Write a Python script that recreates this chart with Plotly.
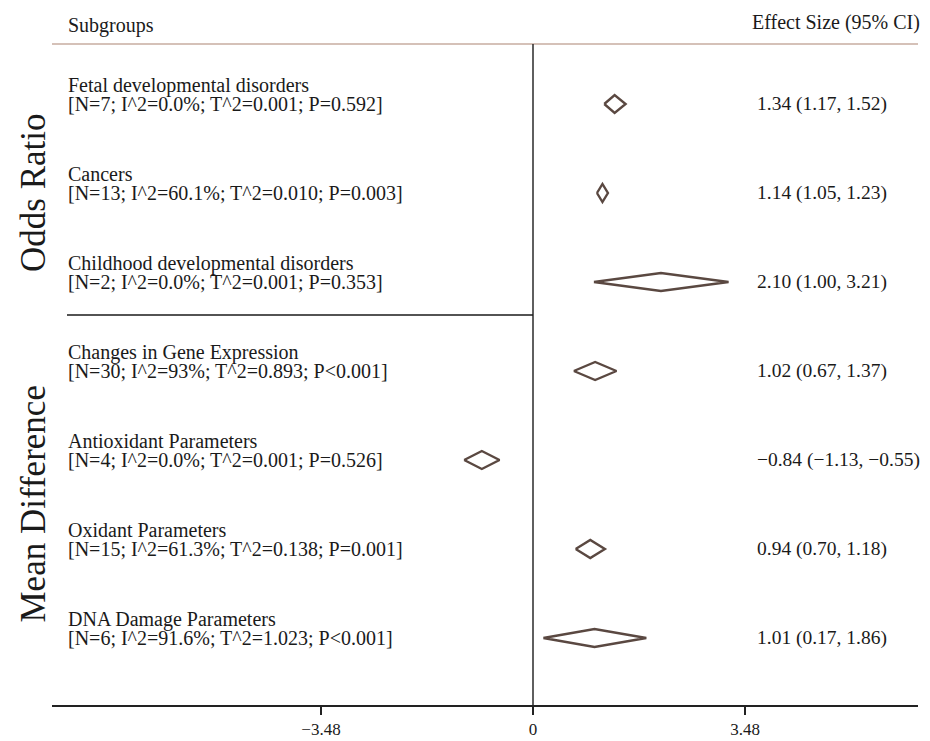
import plotly.graph_objects as go

# ---- data ----
groups = ["Odds Ratio", "Odds Ratio", "Odds Ratio",
          "Mean Difference", "Mean Difference", "Mean Difference", "Mean Difference"]
names = ["Fetal developmental disorders", "Cancers", "Childhood developmental disorders",
         "Changes in Gene Expression", "Antioxidant Parameters", "Oxidant Parameters",
         "DNA Damage Parameters"]
stats = ["[N=7; I^2=0.0%; T^2=0.001; P=0.592]",
         "[N=13; I^2=60.1%; T^2=0.010; P=0.003]",
         "[N=2; I^2=0.0%; T^2=0.001; P=0.353]",
         "[N=30; I^2=93%; T^2=0.893; P<0.001]",
         "[N=4; I^2=0.0%; T^2=0.001; P=0.526]",
         "[N=15; I^2=61.3%; T^2=0.138; P=0.001]",
         "[N=6; I^2=91.6%; T^2=1.023; P<0.001]"]
est = [1.34, 1.14, 2.10, 1.02, -0.84, 0.94, 1.01]
lo = [1.17, 1.05, 1.00, 0.67, -1.13, 0.70, 0.17]
hi = [1.52, 1.23, 3.21, 1.37, -0.55, 1.18, 1.86]
tick_vals = [-3.48, 0, 3.48]
tick_text = ["\u22123.48", "0", "3.48"]

FONT = "Liberation Serif, Times New Roman, serif"
TXT = "#1a1a1a"
OFF = 8  # page body margin in the browser
PAGE_W, PAGE_H = 930, 741
W, H = PAGE_W - OFF, PAGE_H - OFF

# layout positions in page pixels (as seen in the reference)
PLOT_L, PLOT_R, PLOT_T, PLOT_B = 52, 918, 44, 705
ZERO_PX = 533
PX_PER_UNIT = 212 / 3.48
ROW_PX = 89
FIRST_ROW_PX = 104
HALF_H = 9 / ROW_PX

ML, MR = PLOT_L - OFF, (OFF + W) - PLOT_R
MT, MB = PLOT_T - OFF, (OFF + H) - PLOT_B
PW = PLOT_R - PLOT_L

def px_to_x(px):
    return (px - ZERO_PX) / PX_PER_UNIT

def px_to_paper(px):
    return (px - PLOT_L) / PW

x_left, x_right = px_to_x(PLOT_L), px_to_x(PLOT_R)
y_top = (PLOT_T - FIRST_ROW_PX) / ROW_PX
y_bot = (PLOT_B - FIRST_ROW_PX) / ROW_PX

def fmt(v):
    return f"{v:.2f}".replace("-", "\u2212")

xs, ys = [], []
for i in range(len(est)):
    xs += [lo[i], est[i], hi[i], est[i], lo[i], None]
    ys += [i, i - HALF_H, i, i + HALF_H, i, None]

fig = go.Figure()
fig.add_trace(go.Scatter(x=xs, y=ys, mode="lines",
                         line=dict(color="#5a4841", width=2.4),
                         hoverinfo="skip", showlegend=False))

FS = 20
FS_R = 19.5
ann = []
for i in range(len(est)):
    ann.append(dict(x=px_to_paper(66), xref="paper", y=i, yref="y", text=names[i],
                    xanchor="left", yanchor="middle", yshift=19, showarrow=False,
                    font=dict(family=FONT, size=FS, color=TXT)))
    ann.append(dict(x=px_to_paper(66), xref="paper", y=i, yref="y", text=stats[i],
                    xanchor="left", yanchor="middle", showarrow=False,
                    font=dict(family=FONT, size=FS, color=TXT)))
    ann.append(dict(x=px_to_paper(755), xref="paper", y=i, yref="y",
                    text=f"{fmt(est[i])} ({fmt(lo[i])}, {fmt(hi[i])})",
                    xanchor="left", yanchor="middle", showarrow=False,
                    font=dict(family=FONT, size=FS_R, color=TXT)))

# group labels (vertical)
for g in ["Odds Ratio", "Mean Difference"]:
    idx = [i for i, gg in enumerate(groups) if gg == g]
    ann.append(dict(x=px_to_paper(33), xref="paper",
                    y=sum(idx) / len(idx), yref="y", text=g, textangle=-90,
                    xanchor="center", yanchor="middle", showarrow=False,
                    font=dict(family=FONT, size=35, color=TXT)))

ann.append(dict(x=px_to_paper(66), xref="paper", y=1, yref="paper", text="Subgroups",
                xanchor="left", yanchor="middle", yshift=19, showarrow=False,
                font=dict(family=FONT, size=FS, color=TXT)))
ann.append(dict(x=1, xref="paper", y=1, yref="paper", text="Effect Size (95% CI)",
                xanchor="right", yanchor="middle", yshift=22, xshift=4, showarrow=False,
                font=dict(family=FONT, size=FS, color=TXT)))

# separator between groups
n_or = sum(1 for g in groups if g == "Odds Ratio")
sep_y = n_or - 1 + 33 / ROW_PX

shapes = [
    dict(type="line", xref="paper", yref="paper", x0=0, x1=1, y0=1, y1=1,
         line=dict(color="#c7ada0", width=1.6)),
    dict(type="line", xref="x", yref="paper", x0=0, x1=0, y0=0, y1=1,
         line=dict(color="#2a2a2a", width=1.5)),
    dict(type="line", xref="x", yref="y", x0=px_to_x(67), x1=0,
         y0=sep_y, y1=sep_y, line=dict(color="#1a1a1a", width=1.5)),
]

fig.update_layout(
    width=W, height=H,
    margin=dict(l=ML, r=MR, t=MT, b=MB, autoexpand=False),
    paper_bgcolor="white", plot_bgcolor="white",
    annotations=ann, shapes=shapes,
    xaxis=dict(range=[x_left, x_right], tickvals=tick_vals, ticktext=tick_text,
               automargin=False,
               showgrid=False, zeroline=False, showline=True, linecolor="#222",
               linewidth=1.5, ticks="outside", ticklen=8, tickwidth=1.5,
               tickcolor="#222", tickfont=dict(family=FONT, size=17, color=TXT)),
    yaxis=dict(range=[y_bot, y_top], showgrid=False, zeroline=False,
               automargin=False,
               showticklabels=False, showline=False, ticks=""),
)

fig.write_html("out.html")
